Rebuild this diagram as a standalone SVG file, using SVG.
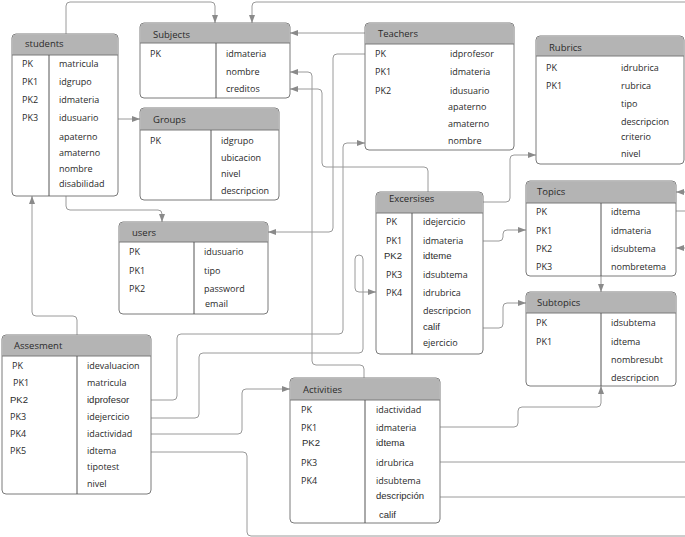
<svg xmlns="http://www.w3.org/2000/svg" width="685" height="537" viewBox="0 0 685 537">
<defs>
<marker id="ah" viewBox="0 0 8 8" refX="8" refY="4" markerWidth="8" markerHeight="8" markerUnits="userSpaceOnUse" orient="auto">
<path d="M0,1 L8,4 L0,7 Z" fill="#8a8a8a"/>
</marker>
<style>
.box{fill:#fff;stroke:#7a7a7a;stroke-width:1}
.hd{fill:#b4b4b4}
.hl{stroke:#7a7a7a;stroke-width:1}
.dv{stroke:#555;stroke-width:1}
.c{fill:none;stroke:#9a9a9a;stroke-width:1}
.a{marker-end:url(#ah)}
text{font-family:"Open Sans","Noto Sans","DejaVu Sans",sans-serif;font-size:9px;fill:#2a2a2a}
.t{font-size:9.5px}
.ar{font-family:"Liberation Sans",Arial,sans-serif;font-size:9.5px}
</style>
</defs>
<rect width="685" height="537" fill="#fff"/>

<g id="connectors">
<path class="c a" d="M66,34 V6 Q66,2 70,2 H211 Q215,2 215,6 V23"/>
<path class="c a" d="M685,2 H256 Q252,2 252,6 V23"/>
<path class="c a" d="M365,33 H290"/>
<path class="c a" d="M365,54 H337 Q333,54 333,58 V228 Q333,232 329,232 H268"/>
<path class="c a" d="M364,378 V369 Q364,365 360,365 H316 Q312,365 312,361 V76 Q312,72 308,72 H290"/>
<path class="c a" d="M428,192 V171 Q428,167 424,167 H326 Q322,167 322,163 V93 Q322,89 318,89 H290"/>
<path class="c a" d="M151,400 H173 Q177,400 177,396 V338 Q177,334 181,334 H339 Q343,334 343,330 V147 Q343,143 347,143 H365"/>
<path class="c a" d="M151,418 H195 Q199,418 199,414 V357 Q199,353 203,353 H359 Q363,353 363,349 V259 Q363,255 359,255 Q355,255 355,259 V288 Q355,292 359,292 H376"/>
<path class="c a" d="M151,434 H238 Q242,434 242,430 V393 Q242,389 246,389 H290"/>
<path class="c" d="M151,452 H243 Q247,452 247,456 V532 Q247,536 251,536 H685"/>
<path class="c a" d="M77,335 V320 Q77,316 73,316 H36 Q32,316 32,312 V196"/>
<path class="c a" d="M66,196 V206 Q66,210 70,210 H158 Q162,210 162,214 V222"/>
<path class="c a" d="M118,119 H140"/>
<path class="c a" d="M483,202 H506 Q510,202 510,198 V159 Q510,155 514,155 H536"/>
<path class="c a" d="M483,241 H499 Q503,241 503,237 V234 Q503,230 507,230 H526"/>
<path class="c a" d="M483,328 H499 Q503,328 503,324 V307 Q503,303 507,303 H526"/>
<path class="c a" d="M601,276 V292"/>
<path class="c a" d="M440,427 H514 Q518,427 518,423 V411 Q518,407 522,407 H597 Q601,407 601,403 V386"/>
<path class="c" d="M440,462 H685"/>
<path class="c" d="M440,497 H685"/>
<path class="c a" d="M685,192 H676"/>
<path class="c" d="M676,211 H685"/>
<path class="c a" d="M685,248 H676"/>
</g>

<g id="students">
<rect class="box" x="12" y="34" width="106" height="162" rx="4"/>
<path class="hd" d="M16,34.5 H114 Q117.5,34.5 117.5,38 V55 H12.5 V38 Q12.5,34.5 16,34.5 Z"/>
<line class="hl" x1="12" y1="55" x2="118" y2="55"/>
<line class="dv" x1="49" y1="55" x2="49" y2="196"/>
<text class="t" x="25" y="47">students</text>
<text x="22" y="67">PK</text><text x="59" y="67">matricula</text>
<text x="22" y="85">PK1</text><text x="59" y="85">idgrupo</text>
<text x="22" y="103">PK2</text><text x="59" y="103">idmateria</text>
<text x="22" y="121">PK3</text><text x="59" y="121">idusuario</text>
<text x="59" y="140">apaterno</text>
<text x="59" y="156">amaterno</text>
<text x="59" y="172">nombre</text>
<text x="59" y="187">disabilidad</text>
</g>

<g id="subjects">
<rect class="box" x="140" y="23" width="150" height="75" rx="4"/>
<path class="hd" d="M144,23.5 H286 Q289.5,23.5 289.5,27 V43 H140.5 V27 Q140.5,23.5 144,23.5 Z"/>
<line class="hl" x1="140" y1="43" x2="290" y2="43"/>
<line class="dv" x1="216" y1="43" x2="216" y2="98"/>
<text class="t" x="153" y="38">Subjects</text>
<text x="150" y="57">PK</text><text x="226" y="57">idmateria</text>
<text x="226" y="75">nombre</text>
<text x="226" y="92">creditos</text>
</g>

<g id="groups">
<rect class="box" x="140" y="108" width="139" height="92" rx="4"/>
<path class="hd" d="M144,108.5 H275 Q278.5,108.5 278.5,112 V130 H140.5 V112 Q140.5,108.5 144,108.5 Z"/>
<line class="hl" x1="140" y1="130" x2="279" y2="130"/>
<line class="dv" x1="211" y1="130" x2="211" y2="200"/>
<text class="t" x="153" y="123">Groups</text>
<text x="150" y="144">PK</text><text x="221" y="144">idgrupo</text>
<text x="221" y="161">ubicacion</text>
<text x="221" y="177">nivel</text>
<text x="221" y="194">descripcion</text>
</g>

<g id="teachers">
<rect class="box" x="365" y="23" width="149" height="127" rx="4"/>
<path class="hd" d="M369,23.5 H510 Q513.5,23.5 513.5,27 V44 H365.5 V27 Q365.5,23.5 369,23.5 Z"/>
<line class="hl" x1="365" y1="44" x2="514" y2="44"/>
<text class="t" x="378" y="37">Teachers</text>
<text x="375" y="57">PK</text><text x="450" y="57">idprofesor</text>
<text x="375" y="75">PK1</text><text x="450" y="75">idmateria</text>
<text x="375" y="94">PK2</text><text x="450" y="94">idusuario</text>
<text x="448" y="110">apaterno</text>
<text x="448" y="127">amaterno</text>
<text x="448" y="144">nombre</text>
</g>

<g id="rubrics">
<rect class="box" x="536" y="36" width="148" height="128" rx="4"/>
<path class="hd" d="M540,36.5 H680 Q683.5,36.5 683.5,40 V56 H536.5 V40 Q536.5,36.5 540,36.5 Z"/>
<line class="hl" x1="536" y1="56" x2="684" y2="56"/>
<text class="t" x="549" y="51">Rubrics</text>
<text x="546" y="71">PK</text><text x="621" y="71">idrubrica</text>
<text x="546" y="89">PK1</text><text x="621" y="89">rubrica</text>
<text x="621" y="107">tipo</text>
<text x="621" y="125">descripcion</text>
<text x="621" y="140">criterio</text>
<text x="621" y="157">nivel</text>
</g>

<g id="excersises">
<rect class="box" x="376" y="192" width="107" height="162" rx="4"/>
<path class="hd" d="M380,192.5 H479 Q482.5,192.5 482.5,196 V213 H376.5 V196 Q376.5,192.5 380,192.5 Z"/>
<line class="hl" x1="376" y1="213" x2="483" y2="213"/>
<line class="dv" x1="412" y1="213" x2="412" y2="354"/>
<text class="t" x="389" y="202">Excersises</text>
<text x="386" y="225">PK</text><text x="423" y="225">idejercicio</text>
<text x="386" y="244">PK1</text><text x="423" y="244">idmateria</text>
<text class="ar" x="384" y="259">PK2</text><text class="ar" x="423" y="259">idteme</text>
<text x="386" y="278">PK3</text><text x="423" y="278">idsubtema</text>
<text x="386" y="296">PK4</text><text x="423" y="296">idrubrica</text>
<text x="423" y="314">descripcion</text>
<text class="ar" x="423" y="330">calif</text>
<text x="423" y="346">ejercicio</text>
</g>

<g id="users">
<rect class="box" x="119" y="222" width="149" height="92" rx="4"/>
<path class="hd" d="M123,222.5 H264 Q267.5,222.5 267.5,226 V242 H119.5 V226 Q119.5,222.5 123,222.5 Z"/>
<line class="hl" x1="119" y1="242" x2="268" y2="242"/>
<line class="dv" x1="194" y1="242" x2="194" y2="314"/>
<text class="t" x="132" y="236">users</text>
<text x="129" y="255">PK</text><text x="204" y="255">idusuario</text>
<text x="129" y="274">PK1</text><text x="204" y="274">tipo</text>
<text x="129" y="292">PK2</text><text x="204" y="292">password</text>
<text x="205" y="307">email</text>
</g>

<g id="topics">
<rect class="box" x="526" y="181" width="150" height="95" rx="4"/>
<path class="hd" d="M530,181.5 H672 Q675.5,181.5 675.5,185 V203 H526.5 V185 Q526.5,181.5 530,181.5 Z"/>
<line class="hl" x1="526" y1="203" x2="676" y2="203"/>
<line class="dv" x1="601" y1="203" x2="601" y2="276"/>
<text class="t" x="537" y="195">Topics</text>
<text x="536" y="215">PK</text><text x="611" y="215">idtema</text>
<text x="536" y="234">PK1</text><text x="611" y="234">idmateria</text>
<text x="536" y="252">PK2</text><text x="611" y="252">idsubtema</text>
<text x="536" y="270">PK3</text><text x="611" y="270">nombretema</text>
</g>

<g id="subtopics">
<rect class="box" x="526" y="292" width="150" height="94" rx="4"/>
<path class="hd" d="M530,292.5 H672 Q675.5,292.5 675.5,296 V313 H526.5 V296 Q526.5,292.5 530,292.5 Z"/>
<line class="hl" x1="526" y1="313" x2="676" y2="313"/>
<line class="dv" x1="601" y1="313" x2="601" y2="386"/>
<text class="t" x="537" y="306">Subtopics</text>
<text x="536" y="326">PK</text><text x="611" y="326">idsubtema</text>
<text x="536" y="345">PK1</text><text x="611" y="345">idtema</text>
<text x="611" y="363">nombresubt</text>
<text x="611" y="381">descripcion</text>
</g>

<g id="assesment">
<rect class="box" x="2" y="335" width="149" height="159" rx="4"/>
<path class="hd" d="M6,335.5 H147 Q150.5,335.5 150.5,339 V356 H2.5 V339 Q2.5,335.5 6,335.5 Z"/>
<line class="hl" x1="2" y1="356" x2="151" y2="356"/>
<line class="dv" x1="77" y1="356" x2="77" y2="494"/>
<text class="t" x="14" y="349">Assesment</text>
<text x="12" y="369">PK</text><text x="87" y="369">idevaluacion</text>
<text x="13" y="386">PK1</text><text x="87" y="386">matricula</text>
<text class="ar" x="10" y="403">PK2</text><text class="ar" x="87" y="403">idprofesor</text>
<text x="10" y="420">PK3</text><text x="87" y="420">idejercicio</text>
<text x="10" y="437">PK4</text><text x="87" y="437">idactividad</text>
<text x="10" y="454">PK5</text><text x="87" y="454">idtema</text>
<text x="87" y="470">tipotest</text>
<text x="87" y="487">nivel</text>
</g>

<g id="activities">
<rect class="box" x="290" y="378" width="150" height="145" rx="4"/>
<path class="hd" d="M294,378.5 H436 Q439.5,378.5 439.5,382 V400 H290.5 V382 Q290.5,378.5 294,378.5 Z"/>
<line class="hl" x1="290" y1="400" x2="440" y2="400"/>
<line class="dv" x1="365" y1="400" x2="365" y2="523"/>
<text class="t" x="303" y="393">Activities</text>
<text x="301" y="413">PK</text><text x="376" y="413">idactividad</text>
<text x="301" y="431">PK1</text><text x="376" y="431">idmateria</text>
<text class="ar" x="302" y="446">PK2</text><text class="ar" x="376" y="446">idtema</text>
<text x="301" y="466">PK3</text><text x="376" y="466">idrubrica</text>
<text x="301" y="484">PK4</text><text x="376" y="484">idsubtema</text>
<text class="ar" x="376" y="499">descripción</text>
<text class="ar" x="379" y="518">calif</text>
</g>
</svg>
